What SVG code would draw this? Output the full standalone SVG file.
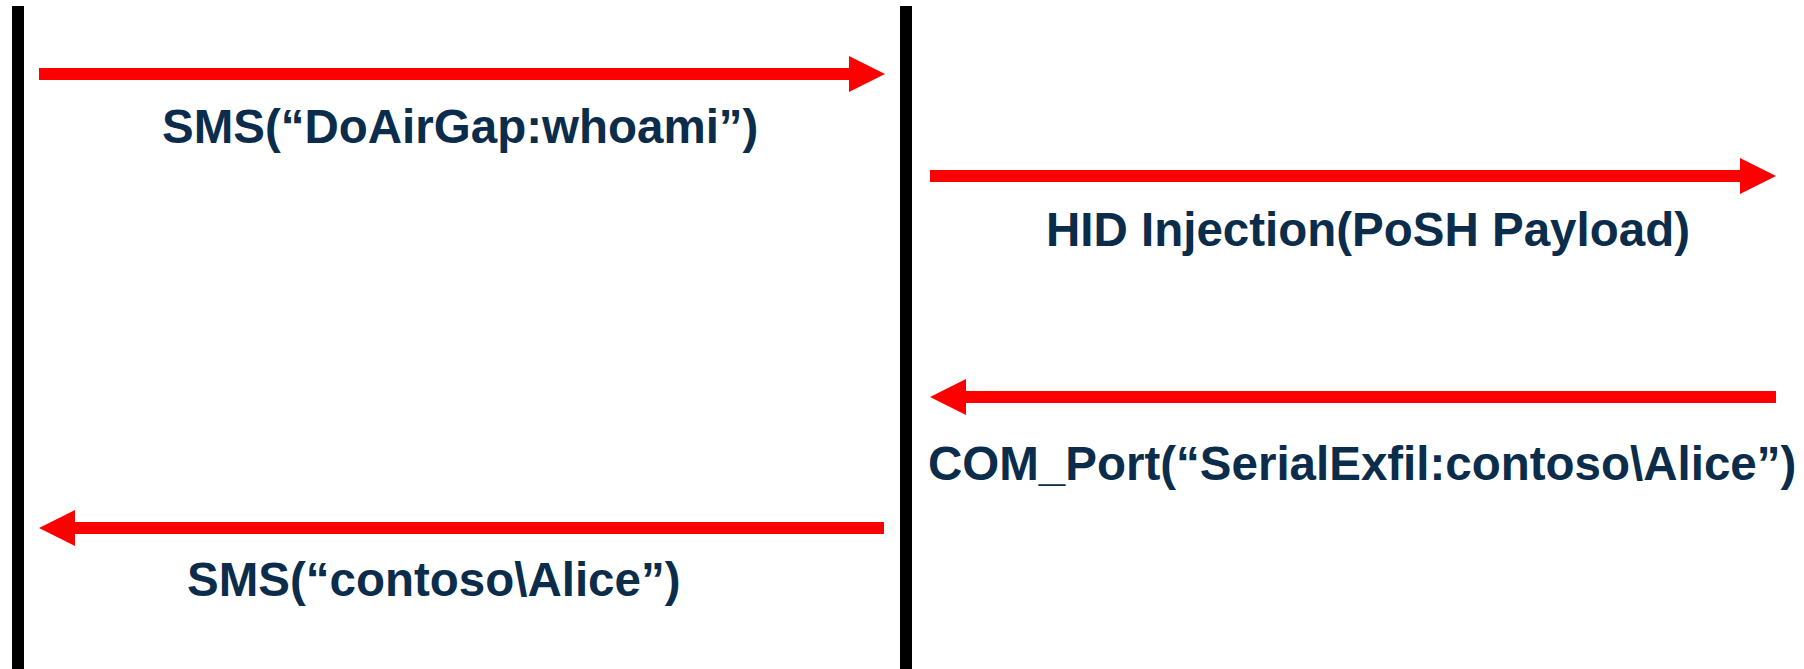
<svg xmlns="http://www.w3.org/2000/svg" width="1804" height="669" viewBox="0 0 1804 669">
  <style>
    .life { stroke: #000000; stroke-width: 12; }
    .msg { stroke: #ff0000; stroke-width: 12; fill: none; marker-end: url(#head); }
    .lbl { font-family: "Liberation Sans", Arial, sans-serif; font-weight: bold; font-size: 47.5px; fill: #0b2d4b; }
  </style>
  <defs>
    <marker id="head" viewBox="0 0 3 3" refX="0" refY="1.5" markerWidth="3" markerHeight="3" markerUnits="strokeWidth" orient="auto">
      <path d="M0,0 L3,1.5 L0,3 z" fill="#ff0000"/>
    </marker>
  </defs>
  <rect width="1804" height="669" fill="#ffffff"/>
  <g id="lifeline-left">
    <line class="life" x1="18" y1="6" x2="18" y2="669"/>
  </g>
  <g id="lifeline-middle">
    <line class="life" x1="906" y1="6" x2="906" y2="669"/>
  </g>
  <g id="connectors">
    <line class="msg" x1="39" y1="74" x2="849" y2="74"/>
    <line class="msg" x1="930" y1="176" x2="1740" y2="176"/>
    <line class="msg" x1="1776" y1="397" x2="966" y2="397"/>
    <line class="msg" x1="884" y1="528" x2="75" y2="528"/>
  </g>
  <g id="labels">
    <text class="lbl" x="162" y="143">SMS(“DoAirGap:whoami”)</text>
    <text class="lbl" x="1046" y="246">HID Injection(PoSH Payload)</text>
    <text class="lbl" x="928" y="480">COM_Port(“SerialExfil:contoso\Alice”)</text>
    <text class="lbl" x="187" y="596">SMS(“contoso\Alice”)</text>
  </g>
</svg>
